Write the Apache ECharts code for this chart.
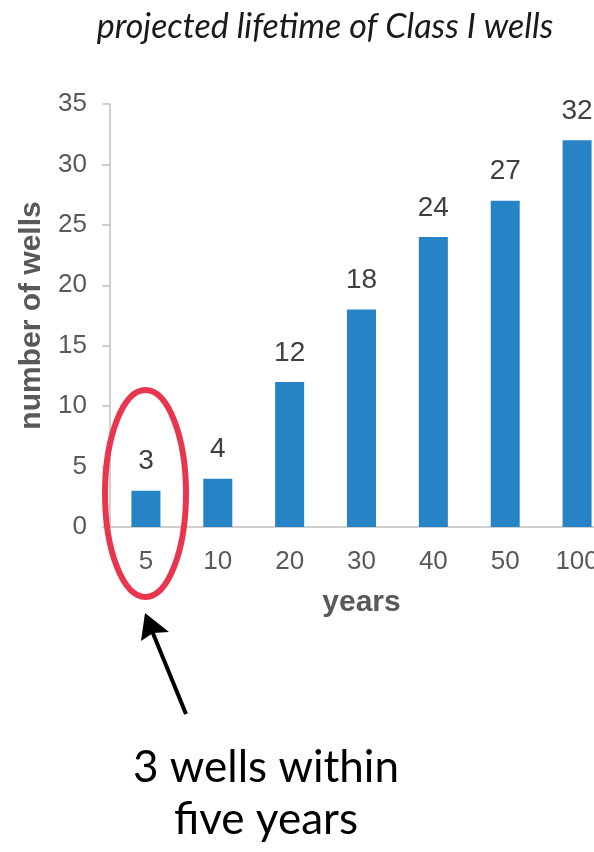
<!DOCTYPE html>
<html>
<head>
<meta charset="utf-8">
<script src="https://cdn.jsdelivr.net/npm/echarts@6/dist/echarts.min.js"></script>
<style>
  html, body { margin: 0; padding: 0; background: #ffffff; }
  #chart { width: 594px; height: 852px; }
</style>
</head>
<body>
<div id="chart"></div>
<script>
const categories = ['5', '10', '20', '30', '40', '50', '100'];
const wells = [3, 4, 12, 18, 24, 27, 32];
const yMin = 0;
const yMax = 35;
const yInterval = 5;
const titleText = 'projected lifetime of Class I wells';
const xName = 'years';
const yName = 'number of wells';
const noteText = '3 wells within\nfive years';

const sans = '"Liberation Sans", Arial, sans-serif';
const humanist = 'Lato, "Open Sans", sans-serif';

const chart = echarts.init(document.getElementById('chart'), null, { renderer: 'canvas' });

chart.setOption({
  animation: false,
  backgroundColor: '#ffffff',
  title: {
    text: titleText,
    left: 320,
    textAlign: 'center',
    top: 5,
    textStyle: {
      fontFamily: humanist,
      fontStyle: 'italic',
      fontWeight: 'normal',
      fontSize: 34,
      color: '#1a1a1a'
    }
  },
  grid: {
    left: 110,
    width: 503,
    top: 104,
    height: 423,
    containLabel: false,
    outerBoundsMode: 'none'
  },
  xAxis: {
    type: 'category',
    data: categories,
    axisLine: { show: true, lineStyle: { color: '#bfbfbf', width: 1.5 } },
    axisTick: { show: false },
    axisLabel: {
      fontFamily: sans,
      fontSize: 26,
      color: '#595959',
      margin: 22
    },
    name: xName,
    nameLocation: 'middle',
    nameGap: 61,
    nameTextStyle: {
      fontFamily: sans,
      fontSize: 30,
      fontWeight: 'bold',
      color: '#595959'
    }
  },
  yAxis: {
    type: 'value',
    min: yMin,
    max: yMax,
    interval: yInterval,
    splitLine: { show: false },
    axisLine: { show: true, lineStyle: { color: '#bfbfbf', width: 1.5 } },
    axisTick: { show: true, length: 8, lineStyle: { color: '#bfbfbf', width: 1.5 } },
    axisLabel: {
      fontFamily: sans,
      fontSize: 26,
      color: '#595959',
      margin: 23
    },
    name: yName,
    nameLocation: 'middle',
    nameGap: 62,
    nameTextStyle: {
      fontFamily: sans,
      fontSize: 30,
      fontWeight: 'bold',
      color: '#595959'
    }
  },
  series: [{
    type: 'bar',
    data: wells,
    barWidth: 29,
    itemStyle: { color: '#2683c6' },
    label: {
      show: true,
      position: 'top',
      distance: 15,
      fontFamily: sans,
      fontSize: 28,
      color: '#404040'
    }
  }],
  graphic: [
    {
      type: 'ellipse',
      z: 100,
      shape: { cx: 145.5, cy: 493.5, rx: 40.5, ry: 103.5 },
      style: { fill: 'none', stroke: '#e8364f', lineWidth: 6 }
    },
    {
      type: 'line',
      z: 100,
      shape: { x1: 186, y1: 714, x2: 150, y2: 626 },
      style: { stroke: '#000000', lineWidth: 4 }
    },
    {
      type: 'polygon',
      z: 100,
      shape: { points: [[145, 613], [141, 641], [153, 633], [169, 632]] },
      style: { fill: '#000000' }
    },
    {
      type: 'text',
      z: 100,
      x: 266,
      y: 742,
      style: {
        text: noteText,
        fontFamily: humanist,
        fontSize: 44,
        lineHeight: 52,
        fill: '#000000',
        textAlign: 'center',
        textVerticalAlign: 'top'
      }
    }
  ]
});
</script>
</body>
</html>
